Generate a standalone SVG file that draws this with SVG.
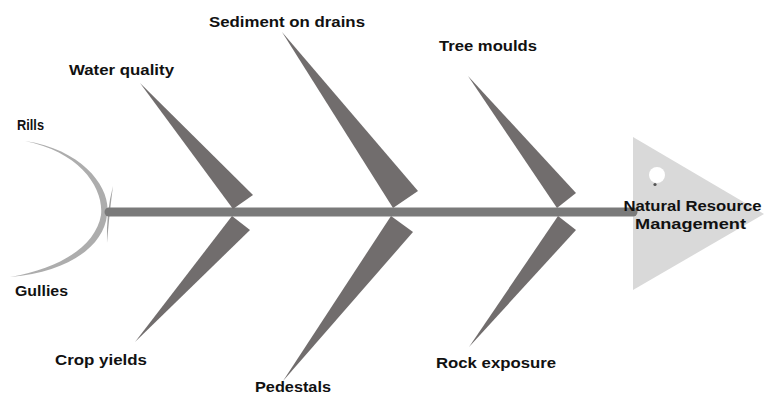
<svg xmlns="http://www.w3.org/2000/svg" width="764" height="394" viewBox="0 0 764 394">
<style>
.lbl{font-family:"Liberation Sans",Arial,sans-serif;font-weight:bold;font-size:15px;fill:#111}
.bone{fill:#716d6d}
</style>
<rect width="764" height="394" fill="#ffffff"/>
<g id="head">
<polygon points="633,137 764,214 633,290" fill="#d9d9d9"/>
<circle cx="657" cy="175" r="8" fill="#ffffff"/>
<circle cx="655" cy="184.5" r="1.6" fill="#555"/>
</g>
<g id="tail">
<path d="M25,141 C85,150 112,190 107,215 C104,245 70,272 10,277 C62,268 96,245 101,215 C104,188 80,152 25,141 Z" fill="#8a8a8a" fill-opacity="0.7"/>
<path d="M113,186 Q106,212 107,243 Q109.5,212 113,186 Z" fill="#8a8a8a" fill-opacity="0.8"/>
</g>
<g id="connectors">
<line x1="109" y1="212" x2="633" y2="212" stroke="#7a7a7a" stroke-width="9" stroke-linecap="round"/>
</g>
<g id="water-quality">
<polygon class="bone" points="140,83 253,195 233,209"/>
<text class="lbl" x="69" y="75" textLength="105" lengthAdjust="spacingAndGlyphs">Water quality</text>
</g>
<g id="crop-yields">
<polygon class="bone" points="135,342 250,230 232,216"/>
<text class="lbl" x="55" y="365" textLength="92" lengthAdjust="spacingAndGlyphs">Crop yields</text>
</g>
<g id="sediment-on-drains">
<polygon class="bone" points="282,32 418,191 393,208"/>
<text class="lbl" x="209" y="27" textLength="156" lengthAdjust="spacingAndGlyphs">Sediment on drains</text>
</g>
<g id="pedestals">
<polygon class="bone" points="283,381 413,232 391,216"/>
<text class="lbl" x="255" y="392" textLength="76" lengthAdjust="spacingAndGlyphs">Pedestals</text>
</g>
<g id="tree-moulds">
<polygon class="bone" points="468,76 576,193 557,208"/>
<text class="lbl" x="439" y="51" textLength="98" lengthAdjust="spacingAndGlyphs">Tree moulds</text>
</g>
<g id="rock-exposure">
<polygon class="bone" points="469,347 576,230 558,216"/>
<text class="lbl" x="436" y="368" textLength="120" lengthAdjust="spacingAndGlyphs">Rock exposure</text>
</g>
<g id="rills">
<text class="lbl" x="17" y="130" textLength="27" lengthAdjust="spacingAndGlyphs">Rills</text>
</g>
<g id="gullies">
<text class="lbl" x="15" y="296" textLength="53" lengthAdjust="spacingAndGlyphs">Gullies</text>
</g>
<g id="natural-resource-management">
<text class="lbl" x="692.5" y="211" text-anchor="middle" textLength="138" lengthAdjust="spacingAndGlyphs">Natural Resource</text>
<text class="lbl" x="690.5" y="229" text-anchor="middle" textLength="111" lengthAdjust="spacingAndGlyphs">Management</text>
</g>
</svg>
